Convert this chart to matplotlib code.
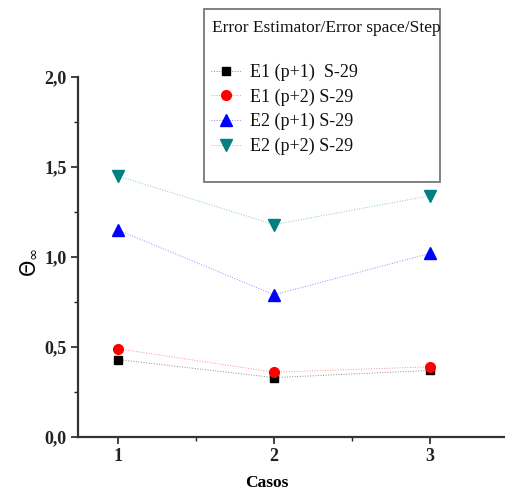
import matplotlib
matplotlib.use("Agg")
import matplotlib.pyplot as plt
from matplotlib.colors import to_rgba
from matplotlib.patches import Rectangle
from matplotlib.ticker import FixedLocator, FixedFormatter

# Data
casos = [1, 2, 3]
e1_p1 = [0.43, 0.33, 0.37]
e1_p2 = [0.49, 0.36, 0.39]
e2_p1 = [1.15, 0.79, 1.02]
e2_p2 = [1.45, 1.18, 1.34]

series_labels = ["E1 (p+1)  S-29", "E1 (p+2) S-29", "E2 (p+1) S-29", "E2 (p+2) S-29"]
legend_title = "Error Estimator/Error space/Step"

y_ticks = [0.0, 0.5, 1.0, 1.5, 2.0]
y_ticklabels = ["0,0", "0,5", "1,0", "1,5", "2,0"]
x_ticks = [1, 2, 3]
x_ticklabels = ["1", "2", "3"]

serif = "Liberation Serif"
W, H = 505, 490

fig = plt.figure(figsize=(5.05, 4.9), dpi=100)
ax = fig.add_axes([78 / W, 53 / H, 1 - 78 / W, 360 / H])

styles = [
    dict(color="black", marker="s", ms=6),
    dict(color="red", marker="o", ms=7),
    dict(color="blue", marker="^", ms=8),
    dict(color="#008080", marker="v", ms=8),
]
handles = []
for ys, lab, st in zip([e1_p1, e1_p2, e2_p1, e2_p2], series_labels, styles):
    solid = to_rgba(st["color"], 1.0)
    line, = ax.plot(casos, ys, linestyle=":", linewidth=0.7,
                    color=to_rgba(st["color"], 0.45),
                    marker=st["marker"], markersize=st["ms"],
                    markerfacecolor=solid, markeredgecolor=solid,
                    label=lab)
    handles.append(line)

ax.set_xlim(1 - 40 / 156, 3 + 75 / 156)
ax.set_ylim(0, 2.0)

ax.yaxis.set_major_locator(FixedLocator(y_ticks))
ax.yaxis.set_major_formatter(FixedFormatter(y_ticklabels))
ax.yaxis.set_minor_locator(FixedLocator([0.25, 0.75, 1.25, 1.75]))
ax.xaxis.set_major_locator(FixedLocator(x_ticks))
ax.xaxis.set_major_formatter(FixedFormatter(x_ticklabels))
ax.xaxis.set_minor_locator(FixedLocator([1.5, 2.5]))

ax.tick_params(which="major", direction="out", length=5, width=1.2,
               colors="#222222", pad=3)
ax.tick_params(which="minor", direction="out", length=3, width=1.0, colors="#222222")
for lbl in ax.get_xticklabels() + ax.get_yticklabels():
    lbl.set_fontfamily(serif)
    lbl.set_fontweight("bold")
    lbl.set_fontsize(13)
    lbl.set_color("#222222")

for s in ["top", "right"]:
    ax.spines[s].set_visible(False)
for s in ["left", "bottom"]:
    ax.spines[s].set_linewidth(1.6)
    ax.spines[s].set_color("#333333")

ax.set_ylabel(r"$\Theta_{\infty}$", fontsize=15)
ax.yaxis.set_label_coords(-0.092, 0.486)
ax.set_xlabel("Casos", fontfamily=serif, fontweight="bold", fontsize=12.5,
              va="center")
ax.xaxis.set_label_coords((267 - 78) / 427, -46 / 360)

# legend box with title and entries
fig.patches.append(Rectangle((204 / W, 1 - 182 / H), 236 / W, 173 / H,
                             transform=fig.transFigure, fill=False,
                             edgecolor="#777777", linewidth=1.3))
fig.text(212 / W, 1 - 28 / H, legend_title, family=serif, size=12.5,
         ha="left", va="center", color="#111111")
leg = fig.legend(handles=handles, labels=series_labels,
                 loc="upper left", bbox_to_anchor=(211 / W, 1 - 64 / H),
                 prop={"family": serif, "size": 13},
                 frameon=False, handlelength=1.7, handletextpad=0.45,
                 labelspacing=0.4, borderpad=0, borderaxespad=0)
for t in leg.get_texts():
    t.set_color("#111111")

fig.savefig("out.png", dpi=100)
